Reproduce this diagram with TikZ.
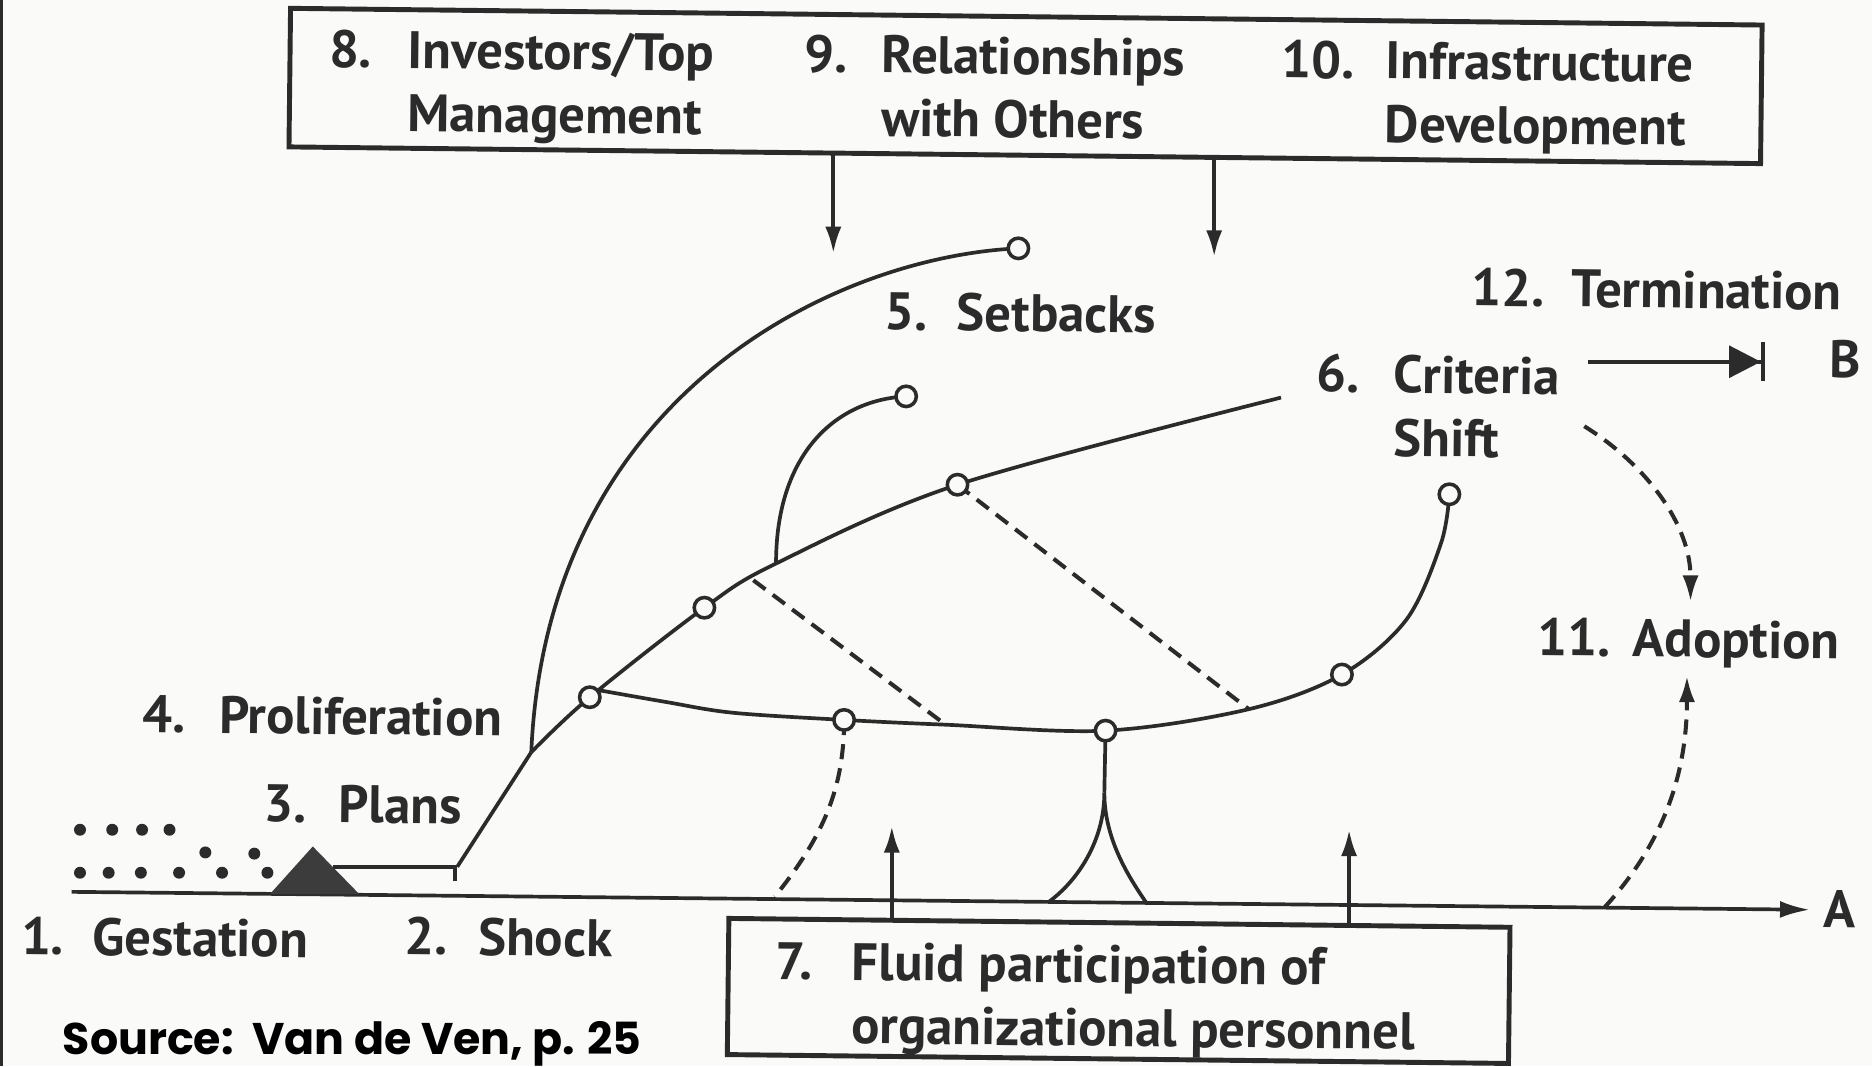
\documentclass[tikz,border=0pt]{standalone}
\usepackage{fontspec}
\setmainfont{PT Sans}
\newfontfamily\srcfont{Poppins}
\usetikzlibrary{arrows.meta}
\newlength\U \setlength\U{0.011939cm}
\definecolor{ink}{HTML}{2B2B2B}
\definecolor{paper}{HTML}{FAFAF8}
\newcommand\hng[3]{\llap{\makebox[#1\U][l]{#2}}#3}
\begin{document}
\begin{tikzpicture}[x=0.011939cm, y=-0.011939cm,
  ln/.style={draw=ink, line width=1.05pt},
  dashln/.style={ln, line width=1.15pt, dash pattern=on 4.3pt off 2.6pt},
  knot/.style={circle, draw=ink, fill=paper, line width=1pt, minimum size=5.8pt, inner sep=0pt},
  lbl/.style={text=ink, font=\fontsize{15}{18}\selectfont\bfseries, inner sep=0pt, anchor=base west, rotate=-0.6},
  framebox/.style={draw=ink, line width=1.4pt, rotate=-0.65, inner sep=0pt},
  arr/.style={-{Latex[length=7.5pt,width=4.6pt]}},
  dotg/.style={fill=ink}]
% background and bounds
\fill[paper] (0,0) rectangle (1568,893);
\useasboundingbox (0,0) rectangle (1568,893);
\draw[ink, line width=0.8pt] (1.2,0) -- (1.2,893);

% boxes
\node[framebox, minimum width=14.709cm, minimum height=1.385cm] (topbox) at (859,72) {};
\node[framebox, minimum width=7.808cm, minimum height=1.361cm] (box7) at (937,830) {};

% coordinates
\coordinate (ax0) at (60,747);
\coordinate (ax1) at (1516,762);
\coordinate (pl0) at (279,726);
\coordinate (s) at (383,726);
\coordinate (tk) at (381,738);
\coordinate (j1) at (445,630);
\coordinate (c1) at (494,584);
\coordinate (c2) at (590,509);
\coordinate (d0) at (631,486);
\coordinate (j2) at (650,472);
\coordinate (c3) at (802,406);
\coordinate (e) at (1073,333);
\coordinate (sb1) at (853,208);
\coordinate (sb2) at (759,332);
\coordinate (l0) at (501,578);
\coordinate (l1) at (558,588);
\coordinate (l2) at (614,597);
\coordinate (c5) at (707,603);
\coordinate (d1) at (792,607);
\coordinate (c6) at (926,612);
\coordinate (d2) at (1046,594);
\coordinate (c7) at (1124,565);
\coordinate (l4) at (1178,519);
\coordinate (l5) at (1207,455);
\coordinate (c8) at (1214,414);
\coordinate (cu) at (925,664);
\coordinate (cf1) at (879,755);
\coordinate (cf2) at (960,756);
\coordinate (tA) at (698,128);
\coordinate (tA2) at (698,212);
\coordinate (tB) at (1017,132);
\coordinate (tB2) at (1017,215);
\coordinate (bA) at (747,772);
\coordinate (bA2) at (747,692);
\coordinate (bB) at (1130,777);
\coordinate (bB2) at (1130,695);
\coordinate (te0) at (1330,303);
\coordinate (te1) at (1478,303);
\coordinate (da0) at (1327,357);
\coordinate (da1) at (1416,504);
\coordinate (ua0) at (1344,760);
\coordinate (ua1) at (1413,566);
\coordinate (dc) at (649,751);

% axis
\draw[ln, -{Latex[length=8.5pt,width=4.8pt]}] (ax0) -- (ax1);

% gestation dots and triangle
\foreach \p in {(67,695),(94,695),(119,695),(142,695),(172,714),(213,715),(67,731),(91,731),(118,731),(150,731),(186,731),(224,731)}
  \fill[dotg] \p circle (5);
\fill[ink!92] (226,749) -- (262,709) -- (301,749) -- cycle;

% plans line and branch
\draw[ln] (pl0) -- (s);
\draw[ln] (tk) -- (381,726);
\draw[ln] (s) -- (j1);
\draw[ln] plot[smooth, tension=0.55] coordinates {(j1) (c1) (c2) (j2) (c3) (e)};
% setbacks
\draw[ln] (j1) .. controls (458,330) and (700,215) .. (sb1);
\draw[ln] (j2) .. controls (650,380) and (700,335) .. (sb2);
% lower branch
\draw[ln] plot[smooth, tension=0.55] coordinates {(l0) (l1) (l2) (c5) (d1) (c6) (d2) (c7) (l4) (l5) (c8)};
% cusp
\draw[ln] (c6) -- (cu);
\draw[ln] (cf1) .. controls (902,738) and (925,705) .. (cu) .. controls (925,705) and (948,738) .. (cf2);
% dashed links
\draw[dashln] (d0) -- (d1);
\draw[dashln] (c3) -- (d2);
\draw[dashln] (c5) .. controls (707,660) and (690,700) .. (dc);
\draw[dashln, arr] (da0) .. controls (1380,390) and (1416,440) .. (da1);
\draw[dashln, arr] (ua0) .. controls (1385,715) and (1413,660) .. (ua1);

% arrows from boxes
\draw[ln, arr] (tA) -- (tA2);
\draw[ln, arr] (tB) -- (tB2);
\draw[ln, arr] (bA) -- (bA2);
\draw[ln, arr] (bB) -- (bB2);
% termination
\draw[ln, -{Triangle[length=9pt,width=9pt] Bar[width=11pt]}] (te0) -- (te1);

% knots
\foreach \k in {c1,c2,c3,c5,c6,c7,c8,sb1,sb2}
  \node[knot] (k\k) at (\k) {};

% labels
\node[lbl] (l8) at (341,57) {\begin{tabular}[t]{@{}l@{}}\hng{66}{8.}{Investors/Top}\\Management\end{tabular}};
\node[lbl] (l9) at (738,61) {\begin{tabular}[t]{@{}l@{}}\hng{65}{9.}{Relationships}\\with Others\end{tabular}};
\node[lbl] (l10) at (1160,66) {\begin{tabular}[t]{@{}l@{}}\hng{87}{10.}{Infrastructure}\\Development\end{tabular}};
\node[lbl] (l5) at (801,277) {\hng{61}{5.}{Setbacks}};
\node[lbl] (l6) at (1167,329) {\begin{tabular}[t]{@{}l@{}}\hng{65}{6.}{Criteria}\\Shift\end{tabular}};
\node[lbl] (l12) at (1316,257) {\hng{84}{12.}{Termination}};
\node[lbl] (lB) at (1532,316) {B};
\node[lbl] (l11) at (1367,550) {\hng{80}{11.}{Adoption}};
\node[lbl] (l4) at (183,614) {\hng{64}{4.}{Proliferation}};
\node[lbl] (l3) at (283,689) {\hng{63}{3.}{Plans}};
\node[lbl] (l1) at (77,800) {\hng{60}{1.}{Gestation}};
\node[lbl] (l2) at (400,800) {\hng{62}{2.}{Shock}};
\node[lbl] (lA) at (1527,777) {A};
\node[lbl] (l7) at (713,821) {\begin{tabular}[t]{@{}l@{}}\hng{64}{7.}{Fluid participation of}\\organizational personnel\end{tabular}};
\node[anchor=base west, inner sep=0pt, text=black, font=\srcfont\bfseries\fontsize{12.6}{14}\selectfont] (src) at (52,883) {Source:\ \ Van de Ven, p. 25};
\end{tikzpicture}
\end{document}
